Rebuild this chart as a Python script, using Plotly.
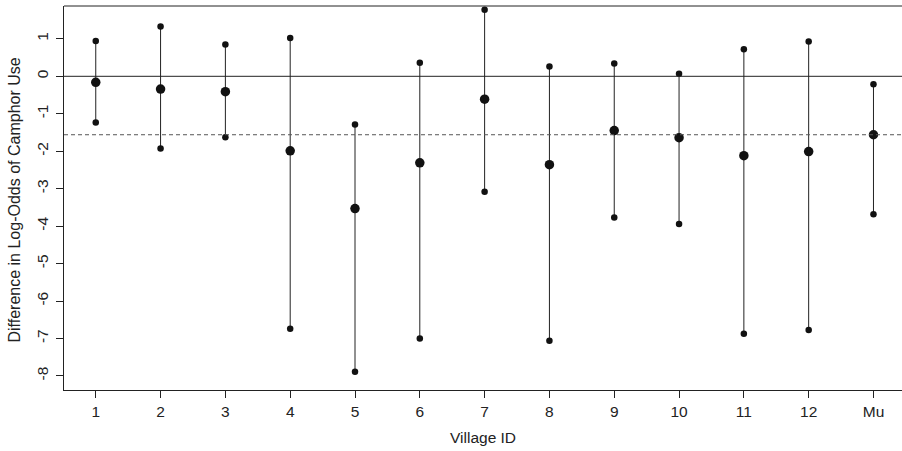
import plotly.graph_objects as go

villages = ["1", "2", "3", "4", "5", "6", "7", "8", "9", "10", "11", "12", "Mu"]
means = [-0.16, -0.34, -0.41, -1.99, -3.53, -2.31, -0.61, -2.36, -1.45, -1.64, -2.12, -2.01, -1.56]
lower = [-1.23, -1.93, -1.63, -6.74, -7.89, -7.00, -3.08, -7.06, -3.77, -3.94, -6.87, -6.77, -3.68]
upper = [0.94, 1.33, 0.85, 1.02, -1.29, 0.36, 1.78, 0.26, 0.34, 0.07, 0.72, 0.93, -0.21]
mu_line = -1.56

xpos = list(range(1, len(villages) + 1))

seg_x, seg_y = [], []
for x, lo, hi in zip(xpos, lower, upper):
    seg_x += [x, x, None]
    seg_y += [lo, hi, None]

fig = go.Figure()
fig.add_trace(go.Scatter(x=seg_x, y=seg_y, mode="lines",
                         line=dict(color="#222222", width=1), hoverinfo="skip"))
fig.add_trace(go.Scatter(x=xpos + xpos, y=lower + upper, mode="markers",
                         marker=dict(color="#111111", size=6.5)))
fig.add_trace(go.Scatter(x=xpos, y=means, mode="markers",
                         marker=dict(color="#111111", size=9.5)))

fig.add_hline(y=0, line=dict(color="#222222", width=1))
fig.add_hline(y=mu_line, line=dict(color="#555555", width=1, dash="4px,3px"))

fig.add_shape(type="line", xref="paper", yref="paper", x0=0, x1=1, y0=1, y1=1,
              line=dict(color="#222222", width=1))

font = "Liberation Sans, Arial, Helvetica, sans-serif"
fig.update_layout(
    width=902, height=451,
    margin=dict(l=64, r=0, t=6, b=61),
    plot_bgcolor="white", paper_bgcolor="white",
    showlegend=False,
    font=dict(family=font, color="#222222"),
    xaxis=dict(range=[0.51, 13.44], tickmode="array", tickvals=xpos, ticktext=villages,
               showline=True, linecolor="#222222", linewidth=1, ticks="outside",
               ticklen=7, tickcolor="#222222", showgrid=False, zeroline=False,
               tickfont=dict(size=15.5, family=font, color="#222222"),
               ticklabelstandoff=0),
    yaxis=dict(range=[-8.375, 1.877], tickmode="array", tickvals=list(range(-8, 2)),
               ticktext=[str(v) for v in range(-8, 2)],
               showline=True, linecolor="#222222", linewidth=1, ticks="outside",
               ticklen=7, tickcolor="#222222", showgrid=False, zeroline=False,
               tickangle=-90, tickfont=dict(size=15.5, family=font, color="#222222"),
               ticklabelstandoff=2),
    annotations=[
        dict(text="Village ID", xref="paper", yref="paper", x=0.5, y=-0.124,
             xanchor="center", yanchor="middle", showarrow=False,
             font=dict(size=15.5, family=font, color="#222222")),
        dict(text="Difference in Log-Odds of Camphor Use", xref="paper", yref="paper",
             x=-0.0585, y=0.496, xanchor="center", yanchor="middle", textangle=-90,
             showarrow=False, font=dict(size=16, family=font, color="#222222")),
    ],
)

fig.write_html("out.html", config={"displayModeBar": False},
               post_script="document.body.style.margin='0';")
